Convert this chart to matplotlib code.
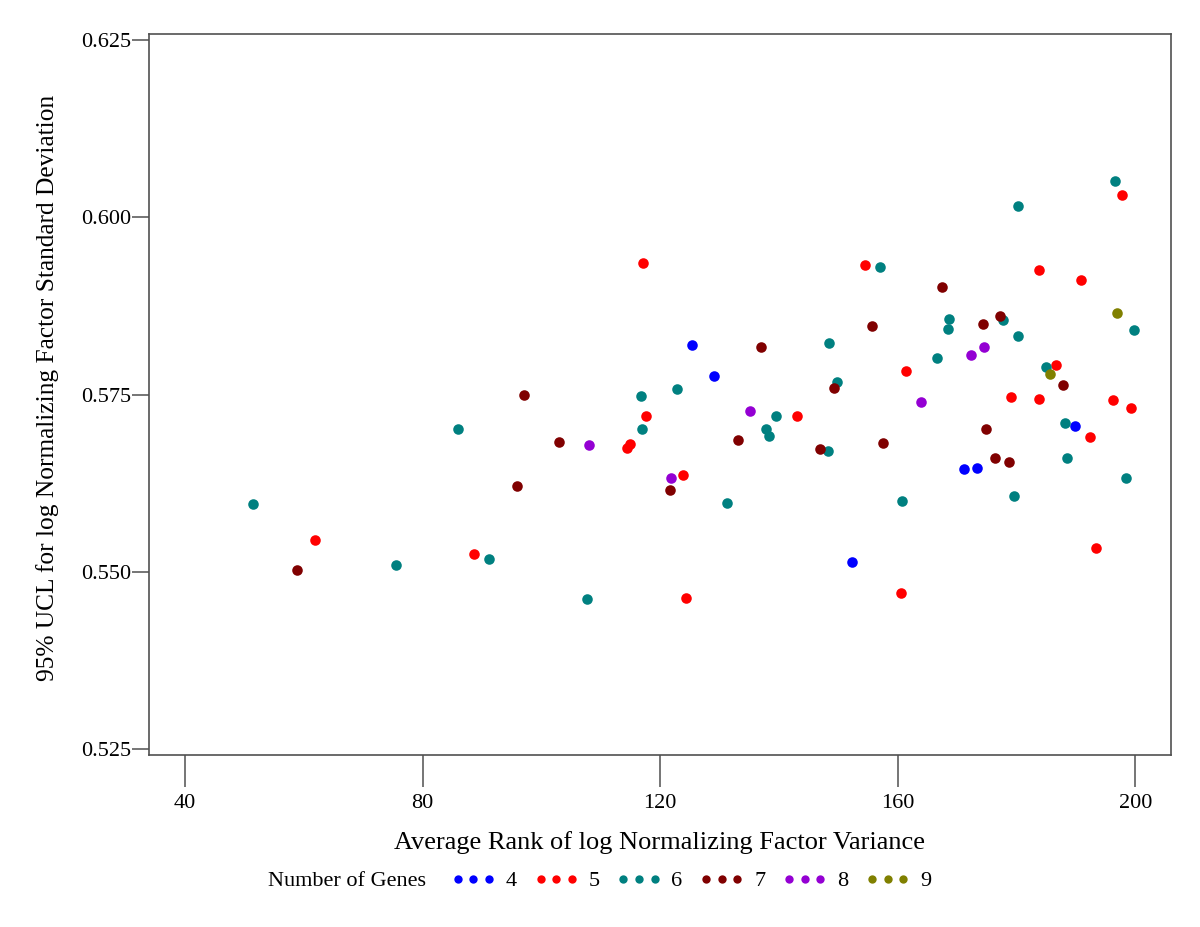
import numpy as np
import matplotlib
matplotlib.use('Agg')
import matplotlib.pyplot as plt
from matplotlib.lines import Line2D

plt.rcParams['font.family'] = ['Liberation Serif', 'DejaVu Serif']

# average rank (x) and 95% UCL (y) for each gene-set size
x4 = [125.3, 129.0, 152.3, 171.2, 173.4, 189.9]
y4 = [0.5820, 0.5776, 0.5514, 0.5645, 0.5646, 0.5705]

x5 = [117.2, 117.6, 61.9, 88.7, 114.5, 115.0, 154.5, 183.7, 190.8, 197.7, 161.4,
      186.7, 179.0, 183.7, 196.2, 199.3, 143.0, 192.3, 123.8, 193.4, 160.5, 124.3]
y5 = [0.5936, 0.5720, 0.5545, 0.5525, 0.5674, 0.5680, 0.5932, 0.5925, 0.5911, 0.6032, 0.5783,
      0.5792, 0.5747, 0.5744, 0.5742, 0.5731, 0.5720, 0.5690, 0.5637, 0.5533, 0.5470, 0.5463]

x6 = [116.7, 86.0, 116.9, 51.5, 75.5, 91.2, 107.7, 196.5, 180.3, 157.1, 199.8, 168.7,
      168.5, 177.8, 180.2, 148.4, 166.6, 185.0, 122.8, 149.8, 139.5, 137.8, 138.4, 148.2,
      188.1, 188.5, 198.5, 179.6, 160.7, 131.2]
y6 = [0.5748, 0.5701, 0.5701, 0.5596, 0.5510, 0.5518, 0.5462, 0.6051, 0.6016, 0.5930, 0.5841, 0.5856,
      0.5842, 0.5855, 0.5832, 0.5823, 0.5801, 0.5789, 0.5758, 0.5767, 0.5720, 0.5701, 0.5692, 0.5670,
      0.5710, 0.5660, 0.5632, 0.5607, 0.5600, 0.5597]

x7 = [97.1, 103.0, 95.9, 58.8, 167.5, 155.7, 174.4, 177.2, 136.9, 187.8, 149.2, 133.1,
      146.9, 157.6, 174.8, 176.3, 178.7, 121.6]
y7 = [0.5749, 0.5683, 0.5621, 0.5503, 0.5901, 0.5846, 0.5850, 0.5861, 0.5817, 0.5763, 0.5759, 0.5686,
      0.5673, 0.5681, 0.5702, 0.5661, 0.5655, 0.5616]

x8 = [108.1, 172.3, 174.5, 164.0, 135.1, 121.8]
y8 = [0.5679, 0.5806, 0.5817, 0.5739, 0.5727, 0.5632]

x9 = [196.9, 185.6]
y9 = [0.5865, 0.5779]

groups = ['4', '5', '6', '7', '8', '9']
xs = [x4, x5, x6, x7, x8, x9]
ys = [y4, y5, y6, y7, y8, y9]
colors = ['#0000ff', '#ff0000', '#008080', '#800000', '#9400d3', '#808000']

fig = plt.figure(figsize=(12, 9.27), dpi=100)
ax = fig.add_axes([0.1239, 0.1859, 0.8522, 0.7774])

for g, xx, yy, c in zip(groups, xs, ys, colors):
    ax.plot(xx, yy, 'o', color=c, markersize=7.6, markeredgewidth=0, label=g)

ax.set_xlim(33.9, 206.06)
ax.set_ylim(0.5242, 0.62585)
ax.set_xticks([40, 80, 120, 160, 200])
ax.set_yticks([0.525, 0.550, 0.575, 0.600, 0.625])
ax.set_yticklabels(['0.525', '0.550', '0.575', '0.600', '0.625'])

for sp in ax.spines.values():
    sp.set_color('#505050')
    sp.set_linewidth(1.2)
ax.tick_params(axis='x', length=23, width=1.1, color='#505050', pad=5, labelsize=16)
ax.tick_params(axis='y', length=12, width=1.1, color='#505050', pad=0.5, labelsize=16)

ax.set_xlabel('Average Rank of log Normalizing Factor Variance', fontsize=19)
ax.xaxis.label.set_va('center')
ax.xaxis.set_label_coords(0.5, -0.1225)
ax.set_ylabel('95% UCL for log Normalizing Factor Standard Deviation', fontsize=18.3)
ax.yaxis.label.set_va('center')
ax.yaxis.set_label_coords(-0.0985, 0.5095)

fig.text(268 / 1200, 1 - 881 / 927, 'Number of Genes', fontsize=16, va='center', ha='left')
handles = [Line2D([], [], linestyle='none', marker='o', markersize=6, markeredgewidth=0, color=c)
           for c in colors]
fig.legend(handles, groups, loc='center left', bbox_to_anchor=(451 / 1200, 1 - 881 / 927),
           ncol=6, numpoints=3, frameon=False, fontsize=16, borderpad=0,
           handlelength=2.0, handletextpad=0.45, columnspacing=0.78, borderaxespad=0)

fig.savefig('out.png', dpi=100)
